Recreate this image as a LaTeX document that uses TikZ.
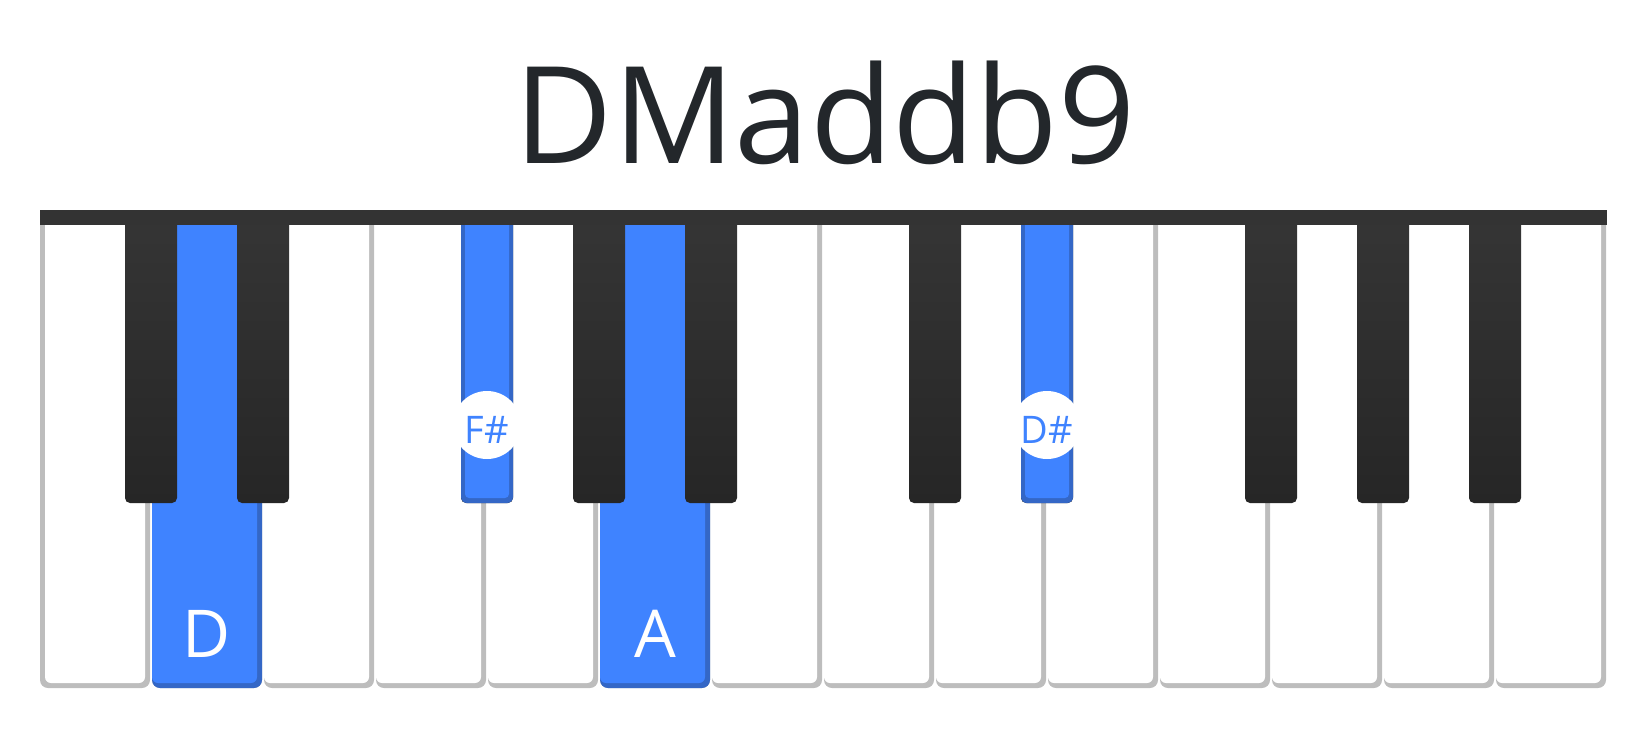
\documentclass[tikz,border=0pt]{standalone}
\usepackage{fontspec}
\setmainfont{Open Sans}
\usepackage{xcolor}
\usepackage{tikz}
\definecolor{keyblue}{HTML}{3F83FF}
\definecolor{keyblueedge}{HTML}{3467C6}
\definecolor{keygray}{HTML}{BDBDBD}
\definecolor{keytop}{HTML}{353535}
\definecolor{keybottom}{HTML}{262626}
\definecolor{barblack}{HTML}{333333}
\definecolor{titleink}{HTML}{23272B}
\tikzset{
  chordtitle/.style={font=\fontsize{135}{140}\selectfont, text=titleink, inner sep=0pt, anchor=base},
  keylabel/.style={font=\fontsize{66}{70}\selectfont, text=white, inner sep=0pt, anchor=base},
  notedot/.style={circle, fill=white, minimum size=68pt, inner sep=0pt, text=keyblue, text height=37pt, text depth=0pt, font=\fontsize{38}{40}\selectfont},
  blackkey/.style={top color=keytop, bottom color=keybottom, rounded corners=5pt}
}

\begin{document}
\begin{tikzpicture}[x=1pt, y=-1pt]
  \useasboundingbox (0,0) rectangle (1650,740);
  % white keys
  \foreach \i in {0,...,13}{
    \pgfmathsetmacro{\xl}{40+112*\i}
    \pgfmathsetmacro{\xin}{\xl+(\i==0)*5}
    \fill[keygray, rounded corners=8pt] (\xl,215) rectangle ++(110,473);
    \fill[white, rounded corners=6pt] (\xin,215) rectangle ({\xl+105},683);
  }
  % white keys of the chord
  \foreach \i in {1,5}{
    \pgfmathsetmacro{\xl}{40+112*\i}
    \fill[keyblueedge, rounded corners=8pt] (\xl,215) rectangle ++(110,473);
    \fill[keyblue, rounded corners=6pt] (\xl,215) rectangle ({\xl+105},683);
  }
  % black keys
  \foreach \k in {1,2,4,5,6,8,9,11,12,13}{
    \pgfmathsetmacro{\c}{40+112*\k-1}
    \shade[blackkey] ({\c-26},215) rectangle ({\c+26},503);
  }
  % black keys of the chord
  \foreach \k in {4,9}{
    \pgfmathsetmacro{\c}{40+112*\k-1}
    \fill[keyblueedge, rounded corners=6pt] ({\c-26},215) rectangle ({\c+26},503);
    \fill[keyblue, rounded corners=4pt] ({\c-22},215) rectangle ({\c+22},498);
  }
  \fill[barblack] (40,210) rectangle (1607,225);

  \node[chordtitle] (chordname) at (825,163) {DMaddb9};
  \node[keylabel] (rootD) at (207,657) {D};
  \node[keylabel] (fifthA) at (655,657) {A};
  \node[notedot] (thirdFs) at (487,425) {F\#};
  \node[notedot] (ninthDs) at (1047,425) {D\#};
\end{tikzpicture}
\end{document}
